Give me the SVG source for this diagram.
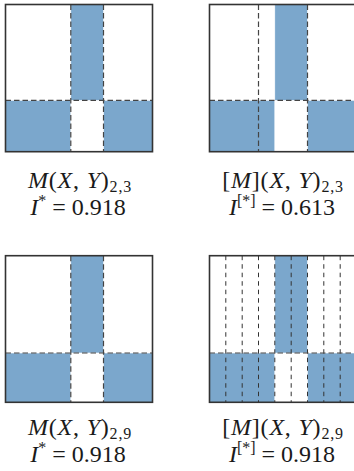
<svg xmlns="http://www.w3.org/2000/svg" width="354" height="471" viewBox="0 0 354 471">
<style>
.bg{fill:#ffffff}
.blue{fill:#7ba7cc;stroke:#ffffff;stroke-width:0.6}
.dash{stroke:#444444;stroke-width:1.2;stroke-dasharray:5.5,3;fill:none}
.fine{stroke:#333333;stroke-width:1;stroke-dasharray:4.5,4;fill:none}
.box{fill:none;stroke:#333333;stroke-width:1.6}
.lbl{font-family:'Liberation Serif','Times New Roman','DejaVu Serif',serif;font-size:24px;fill:#1a1a1a;text-anchor:middle}
.l1{letter-spacing:0.8px}
.it{font-style:italic}
</style>
<rect class="bg" x="0" y="0" width="354" height="471"/>

<g id="panel-m23">
  <rect class="blue" x="70.8" y="4.5" width="32.7" height="95.8"/>
  <rect class="blue" x="5.5" y="100.3" width="65.3" height="51.4"/>
  <rect class="blue" x="103.5" y="100.3" width="49" height="51.4"/>
  <line class="dash" x1="70.8" y1="4.5" x2="70.8" y2="151.7"/>
  <line class="dash" x1="103.5" y1="4.5" x2="103.5" y2="151.7"/>
  <line class="dash" x1="5.5" y1="100.3" x2="152.5" y2="100.3"/>
  <rect class="box" x="5.5" y="4.5" width="147" height="147.2"/>
  <text class="lbl l1" x="80" y="188" font-family="Liberation Serif, serif"><tspan class="it">M</tspan>(<tspan class="it">X</tspan>, <tspan class="it">Y</tspan>)<tspan font-size="16" dy="4">2,3</tspan></text>
  <text class="lbl" x="78" y="215" font-family="Liberation Serif, serif"><tspan class="it">I</tspan><tspan font-size="16" dy="-9">*</tspan><tspan dy="9"> = 0.918</tspan></text>
</g>

<g id="panel-bm23">
  <rect class="blue" x="274.8" y="4.5" width="32.7" height="95.8"/>
  <rect class="blue" x="209.5" y="100.3" width="65.3" height="51.4"/>
  <rect class="blue" x="307.5" y="100.3" width="49" height="51.4"/>
  <line class="dash" x1="258.5" y1="4.5" x2="258.5" y2="151.7"/>
  <line class="dash" x1="307.5" y1="4.5" x2="307.5" y2="151.7"/>
  <line class="dash" x1="209.5" y1="100.3" x2="356.5" y2="100.3"/>
  <rect class="box" x="209.5" y="4.5" width="147" height="147.2"/>
  <text class="lbl l1" x="283" y="188" font-family="Liberation Serif, serif">[<tspan class="it">M</tspan>](<tspan class="it">X</tspan>, <tspan class="it">Y</tspan>)<tspan font-size="16" dy="4">2,3</tspan></text>
  <text class="lbl" x="282" y="215" font-family="Liberation Serif, serif"><tspan class="it">I</tspan><tspan font-size="16" dy="-9">[*]</tspan><tspan dy="9"> = 0.613</tspan></text>
</g>

<g id="panel-m29">
  <rect class="blue" x="70.8" y="255.7" width="32.7" height="97.3"/>
  <rect class="blue" x="5.5" y="353" width="65.3" height="49.3"/>
  <rect class="blue" x="103.5" y="353" width="49" height="49.3"/>
  <line class="dash" x1="70.8" y1="255.7" x2="70.8" y2="402.3"/>
  <line class="dash" x1="103.5" y1="255.7" x2="103.5" y2="402.3"/>
  <line class="dash" x1="5.5" y1="353" x2="152.5" y2="353"/>
  <rect class="box" x="5.5" y="255.7" width="147" height="146.6"/>
  <text class="lbl l1" x="80" y="435" font-family="Liberation Serif, serif"><tspan class="it">M</tspan>(<tspan class="it">X</tspan>, <tspan class="it">Y</tspan>)<tspan font-size="16" dy="4">2,9</tspan></text>
  <text class="lbl" x="78" y="462" font-family="Liberation Serif, serif"><tspan class="it">I</tspan><tspan font-size="16" dy="-9">*</tspan><tspan dy="9"> = 0.918</tspan></text>
</g>

<g id="panel-bm29">
  <rect class="blue" x="274.8" y="255.7" width="32.7" height="97.3"/>
  <rect class="blue" x="209.5" y="353" width="65.3" height="49.3"/>
  <rect class="blue" x="307.5" y="353" width="49" height="49.3"/>
  <line class="fine" x1="225.8" y1="255.7" x2="225.8" y2="402.3"/>
  <line class="fine" x1="242.2" y1="255.7" x2="242.2" y2="402.3"/>
  <line class="fine" x1="258.5" y1="255.7" x2="258.5" y2="402.3"/>
  <line class="fine" x1="274.8" y1="255.7" x2="274.8" y2="402.3"/>
  <line class="fine" x1="291.2" y1="255.7" x2="291.2" y2="402.3"/>
  <line class="fine" x1="307.5" y1="255.7" x2="307.5" y2="402.3"/>
  <line class="fine" x1="323.8" y1="255.7" x2="323.8" y2="402.3"/>
  <line class="fine" x1="340.2" y1="255.7" x2="340.2" y2="402.3"/>
  <line class="dash" x1="209.5" y1="353" x2="356.5" y2="353"/>
  <rect class="box" x="209.5" y="255.7" width="147" height="146.6"/>
  <text class="lbl l1" x="283" y="435" font-family="Liberation Serif, serif">[<tspan class="it">M</tspan>](<tspan class="it">X</tspan>, <tspan class="it">Y</tspan>)<tspan font-size="16" dy="4">2,9</tspan></text>
  <text class="lbl" x="282" y="462" font-family="Liberation Serif, serif"><tspan class="it">I</tspan><tspan font-size="16" dy="-9">[*]</tspan><tspan dy="9"> = 0.918</tspan></text>
</g>
</svg>
